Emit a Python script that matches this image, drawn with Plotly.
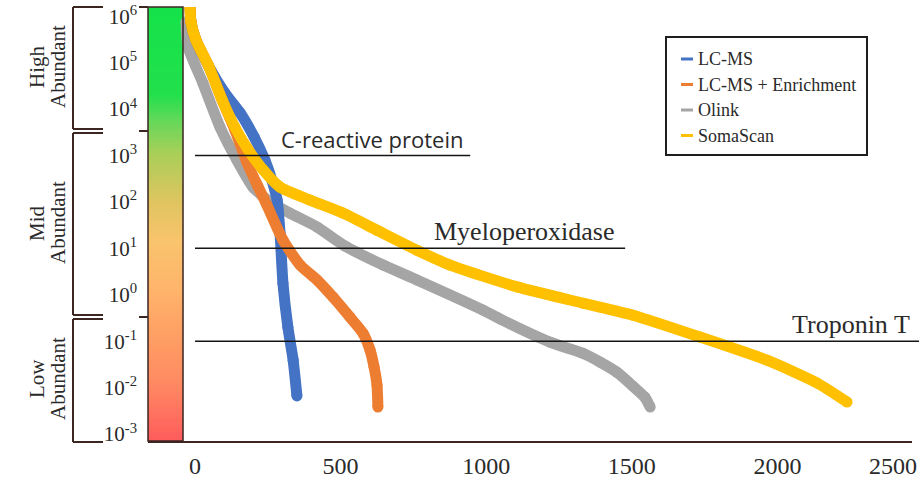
import numpy as np
import plotly.graph_objects as go

# ---- data -------------------------------------------------------------
# Proteins ranked by plasma concentration; concentrations stored as log10 values
series_names = ["LC-MS", "LC-MS + Enrichment", "Olink", "SomaScan"]
series_colors = ["#4472C4", "#ED7D31", "#A5A5A5", "#FFC000"]

lcms_rank = [-17, -14, 3, 48, 102, 155, 203, 240, 264, 282, 292, 302, 319, 337, 350]
lcms_log = [6.18, 5.88, 5.49, 4.91, 4.35, 3.92, 3.40, 2.90, 2.47, 2.04, 1.33, 0.25, -0.70,
            -1.41, -2.18]

enrich_rank = [-17, -14, 3, 48, 93, 137, 179, 215, 247, 302, 361, 419, 474, 532, 577, 601,
               615, 625, 628]
enrich_log = [6.18, 5.88, 5.49, 4.91, 4.20, 3.55, 2.84, 2.35, 1.93, 1.18, 0.64, 0.32, -0.05,
              -0.48, -0.83, -1.19, -1.56, -1.95, -2.42]

olink_rank = [-31, -24, 27, 86, 144, 199, 258, 326, 419, 515, 646, 762, 989, 1047, 1219,
              1332, 1391, 1449, 1504, 1545, 1563]
olink_log = [5.88, 5.34, 4.56, 3.61, 2.90, 2.32, 2.00, 1.76, 1.46, 1.05, 0.64, 0.32, -0.33,
             -0.52, -1.02, -1.26, -1.45, -1.67, -1.97, -2.21, -2.42]

soma_rank = [-17, -14, 3, 48, 93, 137, 179, 234, 292, 395, 508, 625, 762, 876, 1106, 1332,
             1504, 1734, 1964, 2136, 2239]
soma_log = [6.18, 5.88, 5.49, 4.91, 4.20, 3.61, 3.16, 2.69, 2.32, 2.04, 1.76, 1.39, 0.96,
            0.64, 0.17, -0.18, -0.44, -0.91, -1.41, -1.90, -2.31]

# reference proteins and their typical concentration
marker_names = ["C-reactive protein", "Myeloperoxidase", "Troponin T"]
marker_levels = [1e3, 1e1, 1e-1]

# axis ticks
x_ticks = [0, 500, 1000, 1500, 2000, 2500]
y_exponents = [-3, -2, -1, 0, 1, 2, 3, 4, 5, 6]

# abundance band labels
band_labels = [("High", "Abundant"), ("Mid", "Abundant"), ("Low", "Abundant")]

# ---- layout geometry --------------------------------------------------
W, H = 919, 479
PL, PR, PT, PB = 148, 912, 7, 441          # plot area in pixels
X_MIN, X_MAX = -161.4, 2462.0
Y_MIN, Y_MAX = -3.15, 6.2
BAR_RIGHT = -41.2                           # right edge of the colour strip (x units)

SERIF = "Liberation Serif, Times New Roman, serif"
SANS = "Open Sans, Noto Sans, sans-serif"
DARK = "#3b2622"
TXT = "#2a2a2a"


def fx(px):
    return (px - PL) / (PR - PL)


def fy(py):
    return (PB - py) / (PB - PT)


def data_fx(v):
    return (v - X_MIN) / (X_MAX - X_MIN)


fig = go.Figure()

# ---- colour strip (abundance gradient) --------------------------------
edges = np.linspace(Y_MIN, Y_MAX, 200)
mids = (edges[:-1] + edges[1:]) / 2
strip_scale = [
    [0.000, "#ff5c5c"],
    [0.134, "#ff8a62"],
    [0.249, "#ffa064"],
    [0.355, "#ffb56c"],
    [0.463, "#f8c46c"],
    [0.548, "#e0c460"],
    [0.664, "#a8cf58"],
    [0.740, "#62d85a"],
    [0.797, "#22e04c"],
    [1.000, "#14e24a"],
]
fig.add_trace(go.Heatmap(
    x=[X_MIN, BAR_RIGHT], y=10 ** edges, z=[[m] for m in mids],
    colorscale=strip_scale, zmin=Y_MIN, zmax=Y_MAX,
    showscale=False, hoverinfo="skip",
))

# ---- ranked abundance curves ------------------------------------------
curves = {
    "LC-MS": (lcms_rank, lcms_log),
    "LC-MS + Enrichment": (enrich_rank, enrich_log),
    "Olink": (olink_rank, olink_log),
    "SomaScan": (soma_rank, soma_log),
}
color_of = dict(zip(series_names, series_colors))
for name in ["Olink", "LC-MS", "LC-MS + Enrichment", "SomaScan"]:
    rank, logs = curves[name]
    fig.add_trace(go.Scatter(
        x=rank, y=[10 ** v for v in logs], name=name,
        mode="lines+markers",
        line=dict(color=color_of[name], width=11, shape="spline", smoothing=0.6),
        marker=dict(color=color_of[name], size=11),
        showlegend=False, hoverinfo="skip",
    ))

shapes = []
annotations = []

# strip border
shapes.append(dict(type="rect", xref="paper", yref="paper",
                   x0=0, x1=data_fx(BAR_RIGHT), y0=0, y1=1,
                   line=dict(color=DARK, width=1.5), layer="above"))

# reference protein lines and labels
line_ends = [945, 1477, None]
label_right = [927, 1449, None]
label_fonts = [dict(family=SANS, size=22, color=TXT),
               dict(family=SERIF, size=26, color=TXT),
               dict(family=SERIF, size=26, color=TXT)]
for name, level, x_end, x_lab, font in zip(marker_names, marker_levels, line_ends,
                                           label_right, label_fonts):
    x1 = data_fx(x_end) if x_end is not None else 1.02
    shapes.append(dict(type="line", xref="paper", yref="y",
                       x0=data_fx(0), x1=x1, y0=level, y1=level,
                       line=dict(color="#151515", width=1.5), layer="above"))
    xl = data_fx(x_lab) if x_lab is not None else 1.0
    annotations.append(dict(text=name, xref="paper", yref="y", x=xl,
                            y=np.log10(level), xanchor="right", yanchor="bottom",
                            showarrow=False, font=font))

# last x tick label sits at the right edge of the figure
annotations.append(dict(text=str(x_ticks[-1]), xref="paper", yref="paper",
                        x=fx(893), y=fy(466), xanchor="center", yanchor="middle",
                        showarrow=False, font=dict(family=SERIF, size=24, color=TXT)))

# abundance band brackets
band_px = [(7, 129), (133, 315), (319, 442)]
label_centers = [67, 223, 379]
for (top, bot), (w1, w2), cy in zip(band_px, band_labels, label_centers):
    for y0, y1, xa, xb in [(top, bot, 73, 73), (top, top, 73, 103), (bot, bot, 73, 103)]:
        shapes.append(dict(type="line", xref="paper", yref="paper",
                           x0=fx(xa), x1=fx(xb), y0=fy(y0), y1=fy(y1),
                           line=dict(color=DARK, width=2)))
    annotations.append(dict(text=w1, xref="paper", yref="paper", x=fx(37), y=fy(cy),
                            textangle=-90, showarrow=False, xanchor="center",
                            yanchor="middle", font=dict(family=SERIF, size=21, color=TXT)))
    annotations.append(dict(text=w2, xref="paper", yref="paper", x=fx(58), y=fy(cy),
                            textangle=-90, showarrow=False, xanchor="center",
                            yanchor="middle", font=dict(family=SERIF, size=21, color=TXT)))

# small ticks marking band boundaries next to the strip
for py in [7, 131, 317]:
    shapes.append(dict(type="line", xref="paper", yref="paper",
                       x0=fx(139), x1=fx(148), y0=fy(py), y1=fy(py),
                       line=dict(color=DARK, width=2)))

# legend box
shapes.append(dict(type="rect", xref="paper", yref="paper",
                   x0=fx(666), x1=fx(867), y0=fy(155), y1=fy(37),
                   line=dict(color="#1e1e1e", width=2), fillcolor="white", layer="above"))
legend_rows = [59, 84.5, 110, 135.5]
for name, color, py in zip(series_names, series_colors, legend_rows):
    shapes.append(dict(type="line", xref="paper", yref="paper",
                       x0=fx(681), x1=fx(693), y0=fy(py), y1=fy(py),
                       line=dict(color=color, width=3), layer="above"))
    annotations.append(dict(text=name, xref="paper", yref="paper", x=fx(696), y=fy(py),
                            xanchor="left", yanchor="middle", showarrow=False,
                            font=dict(family=SERIF, size=18, color=TXT)))

fig.update_layout(
    width=W, height=H,
    margin=dict(l=PL, r=W - PR, t=PT, b=H - PB),
    paper_bgcolor="white", plot_bgcolor="white",
    showlegend=False,
    shapes=shapes, annotations=annotations,
    xaxis=dict(range=[X_MIN, X_MAX], tickvals=x_ticks[:-1],
               ticktext=[str(t) for t in x_ticks[:-1]],
               showgrid=False, zeroline=False, showline=True,
               linecolor=DARK, linewidth=2, ticks="", automargin=False,
               tickfont=dict(family=SERIF, size=24, color=TXT),
               ticklabelstandoff=2),
    yaxis=dict(type="log", range=[Y_MIN, Y_MAX],
               tickvals=[10.0 ** e for e in y_exponents],
               ticktext=[f"10<sup>{e}</sup>" for e in y_exponents],
               showgrid=False, zeroline=False, showline=False, ticks="",
               automargin=False,
               tickfont=dict(family=SERIF, size=21, color=TXT),
               ticklabelstandoff=10),
)

fig.write_html("out.html")
